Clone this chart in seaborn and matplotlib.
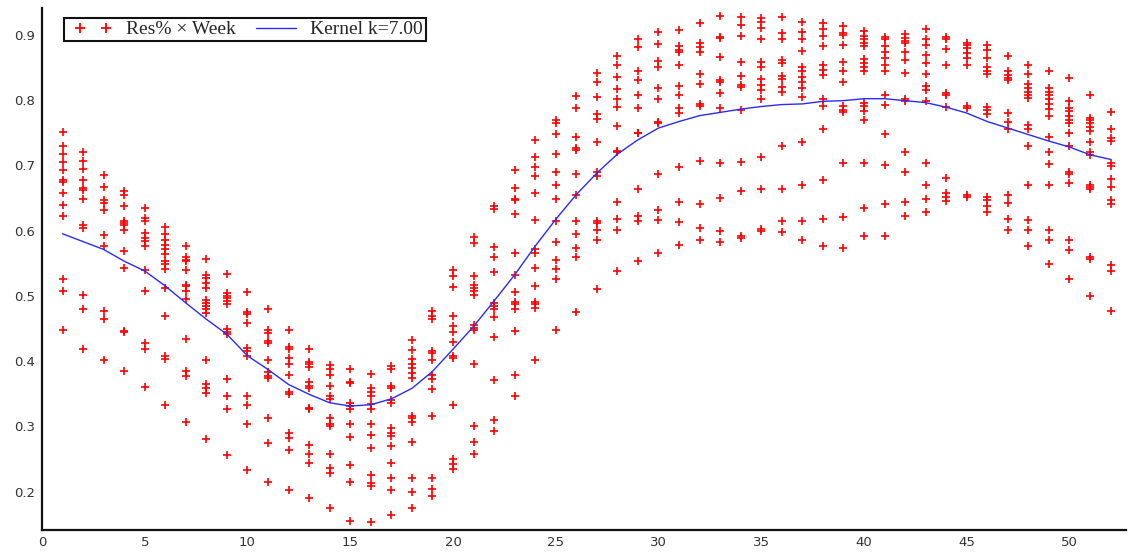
import numpy as np
import pandas as pd
import matplotlib
matplotlib.use("Agg")
import matplotlib.pyplot as plt
from matplotlib.lines import Line2D
from matplotlib.legend_handler import HandlerLine2D
from matplotlib.ticker import MultipleLocator, FuncFormatter
import seaborn as sns

# Weekly residual share, grouped by quarter (one inner list per week)
q1_res = [
    [0.751, 0.730, 0.717, 0.705, 0.692, 0.677, 0.675, 0.658, 0.639, 0.623, 0.526, 0.508, 0.447],
    [0.720, 0.706, 0.694, 0.677, 0.665, 0.662, 0.648, 0.609, 0.604, 0.501, 0.480, 0.419],
    [0.685, 0.666, 0.647, 0.642, 0.631, 0.593, 0.577, 0.476, 0.464, 0.402],
    [0.661, 0.655, 0.637, 0.615, 0.612, 0.609, 0.601, 0.568, 0.543, 0.446, 0.444, 0.384],
    [0.634, 0.619, 0.614, 0.596, 0.589, 0.584, 0.576, 0.540, 0.508, 0.428, 0.418, 0.360],
    [0.606, 0.594, 0.586, 0.578, 0.572, 0.564, 0.553, 0.548, 0.541, 0.512, 0.469, 0.407, 0.403, 0.333],
    [0.577, 0.560, 0.555, 0.553, 0.540, 0.517, 0.515, 0.507, 0.495, 0.434, 0.385, 0.377, 0.306],
    [0.557, 0.532, 0.527, 0.520, 0.512, 0.494, 0.489, 0.484, 0.479, 0.474, 0.402, 0.365, 0.359, 0.351, 0.281],
    [0.534, 0.504, 0.500, 0.496, 0.492, 0.487, 0.449, 0.444, 0.442, 0.373, 0.347, 0.327, 0.256],
    [0.506, 0.475, 0.472, 0.458, 0.420, 0.415, 0.408, 0.346, 0.332, 0.303, 0.233],
    [0.480, 0.448, 0.443, 0.430, 0.428, 0.402, 0.383, 0.377, 0.374, 0.313, 0.275, 0.215],
    [0.448, 0.421, 0.418, 0.405, 0.395, 0.379, 0.352, 0.350, 0.290, 0.282, 0.263, 0.202],
    [0.419, 0.398, 0.395, 0.391, 0.368, 0.362, 0.359, 0.328, 0.326, 0.271, 0.257, 0.243, 0.190],
]
q2_res = [
    [0.394, 0.387, 0.379, 0.361, 0.346, 0.342, 0.312, 0.304, 0.300, 0.258, 0.236, 0.229, 0.174],
    [0.387, 0.368, 0.367, 0.336, 0.331, 0.327, 0.303, 0.283, 0.240, 0.215, 0.155],
    [0.380, 0.359, 0.352, 0.347, 0.334, 0.327, 0.304, 0.287, 0.267, 0.225, 0.213, 0.208, 0.154],
    [0.392, 0.387, 0.361, 0.359, 0.341, 0.336, 0.298, 0.290, 0.285, 0.270, 0.244, 0.221, 0.203, 0.164],
    [0.432, 0.417, 0.403, 0.396, 0.389, 0.381, 0.374, 0.315, 0.313, 0.306, 0.276, 0.221, 0.199, 0.174],
    [0.476, 0.469, 0.465, 0.416, 0.413, 0.402, 0.378, 0.372, 0.357, 0.316, 0.220, 0.204, 0.193],
    [0.539, 0.530, 0.513, 0.469, 0.454, 0.445, 0.429, 0.407, 0.405, 0.332, 0.250, 0.242, 0.234],
    [0.590, 0.581, 0.531, 0.517, 0.512, 0.507, 0.501, 0.455, 0.451, 0.447, 0.396, 0.300, 0.276, 0.258],
    [0.638, 0.633, 0.575, 0.559, 0.536, 0.489, 0.484, 0.480, 0.467, 0.437, 0.371, 0.309, 0.292],
    [0.692, 0.665, 0.648, 0.646, 0.626, 0.566, 0.532, 0.505, 0.491, 0.487, 0.480, 0.446, 0.379, 0.347],
    [0.739, 0.712, 0.698, 0.683, 0.658, 0.616, 0.572, 0.566, 0.543, 0.515, 0.491, 0.487, 0.482, 0.402],
    [0.770, 0.764, 0.748, 0.717, 0.689, 0.669, 0.648, 0.614, 0.582, 0.555, 0.541, 0.526, 0.448],
    [0.806, 0.787, 0.744, 0.727, 0.724, 0.686, 0.655, 0.614, 0.594, 0.573, 0.560, 0.475],
]
q3_res = [
    [0.841, 0.827, 0.804, 0.779, 0.771, 0.735, 0.690, 0.683, 0.615, 0.611, 0.601, 0.586, 0.511],
    [0.868, 0.853, 0.835, 0.817, 0.802, 0.789, 0.760, 0.722, 0.720, 0.643, 0.618, 0.601, 0.538],
    [0.893, 0.881, 0.845, 0.831, 0.807, 0.788, 0.750, 0.749, 0.664, 0.623, 0.615, 0.554],
    [0.904, 0.886, 0.860, 0.851, 0.819, 0.802, 0.767, 0.765, 0.687, 0.632, 0.616, 0.565],
    [0.907, 0.883, 0.877, 0.873, 0.853, 0.822, 0.808, 0.788, 0.780, 0.698, 0.643, 0.613, 0.578],
    [0.918, 0.888, 0.881, 0.873, 0.840, 0.825, 0.794, 0.791, 0.707, 0.641, 0.604, 0.585],
    [0.928, 0.897, 0.895, 0.866, 0.831, 0.827, 0.811, 0.788, 0.704, 0.650, 0.600, 0.582],
    [0.927, 0.915, 0.898, 0.859, 0.837, 0.823, 0.820, 0.784, 0.705, 0.661, 0.592, 0.589],
    [0.926, 0.919, 0.910, 0.893, 0.859, 0.851, 0.832, 0.823, 0.815, 0.802, 0.713, 0.664, 0.603, 0.599],
    [0.927, 0.903, 0.893, 0.862, 0.857, 0.837, 0.832, 0.820, 0.813, 0.729, 0.664, 0.614, 0.597],
    [0.919, 0.904, 0.893, 0.875, 0.851, 0.844, 0.835, 0.827, 0.818, 0.805, 0.735, 0.669, 0.614, 0.586],
    [0.918, 0.909, 0.898, 0.882, 0.854, 0.846, 0.839, 0.802, 0.791, 0.756, 0.678, 0.618, 0.577],
    [0.914, 0.903, 0.900, 0.885, 0.858, 0.845, 0.827, 0.791, 0.785, 0.781, 0.704, 0.620, 0.573],
]
q4_res = [
    [0.905, 0.898, 0.893, 0.887, 0.882, 0.863, 0.857, 0.850, 0.844, 0.795, 0.791, 0.783, 0.770, 0.704, 0.635, 0.591],
    [0.897, 0.893, 0.882, 0.873, 0.864, 0.854, 0.845, 0.808, 0.793, 0.748, 0.701, 0.641, 0.592],
    [0.901, 0.895, 0.890, 0.888, 0.873, 0.862, 0.841, 0.802, 0.799, 0.721, 0.689, 0.643, 0.623],
    [0.909, 0.893, 0.885, 0.869, 0.857, 0.840, 0.822, 0.816, 0.798, 0.704, 0.669, 0.648, 0.628],
    [0.897, 0.893, 0.878, 0.854, 0.811, 0.807, 0.789, 0.681, 0.658, 0.652, 0.645],
    [0.887, 0.885, 0.880, 0.872, 0.864, 0.853, 0.791, 0.788, 0.655, 0.651],
    [0.885, 0.877, 0.864, 0.850, 0.845, 0.840, 0.789, 0.784, 0.778, 0.651, 0.646, 0.637, 0.629],
    [0.868, 0.844, 0.839, 0.834, 0.830, 0.780, 0.767, 0.756, 0.655, 0.642, 0.618, 0.601],
    [0.853, 0.840, 0.825, 0.818, 0.813, 0.808, 0.803, 0.761, 0.755, 0.730, 0.669, 0.616, 0.601, 0.577],
    [0.845, 0.818, 0.813, 0.808, 0.802, 0.794, 0.786, 0.776, 0.743, 0.721, 0.702, 0.669, 0.601, 0.585, 0.549],
    [0.834, 0.798, 0.788, 0.783, 0.776, 0.770, 0.764, 0.749, 0.730, 0.689, 0.687, 0.673, 0.586, 0.570, 0.525],
    [0.807, 0.772, 0.769, 0.764, 0.759, 0.753, 0.735, 0.721, 0.715, 0.669, 0.667, 0.663, 0.560, 0.557, 0.499],
    [0.781, 0.756, 0.742, 0.737, 0.704, 0.699, 0.679, 0.667, 0.646, 0.641, 0.547, 0.538, 0.476],
]

# Kernel smoother (k = 7) evaluated at each week
weeks = list(range(1, 53))
kernel_vals = [
    0.595, 0.583, 0.571, 0.553, 0.538, 0.515, 0.489, 0.464, 0.441, 0.408,
    0.387, 0.364, 0.349, 0.336, 0.331, 0.333, 0.342, 0.358, 0.384, 0.418,
    0.453, 0.492, 0.532, 0.576, 0.617, 0.655, 0.688, 0.717, 0.739, 0.757,
    0.767, 0.776, 0.781, 0.786, 0.790, 0.793, 0.794, 0.798, 0.799, 0.802,
    0.802, 0.799, 0.796, 0.789, 0.780, 0.767, 0.757, 0.747, 0.737, 0.728,
    0.716, 0.709,
]

all_weeks = q1_res + q2_res + q3_res + q4_res
points = pd.DataFrame(
    [(w, v) for w, vals in zip(weeks, all_weeks) for v in vals],
    columns=["week", "res"],
)
kernel = pd.DataFrame({"week": weeks, "res": kernel_vals})

sns.set_style("white")
plt.rcParams["font.family"] = ["DejaVu Sans"]

fig = plt.figure(figsize=(11.28, 5.55), dpi=100)
ax = fig.add_axes([0.0372, 0.045, 0.961, 0.9406])

sns.scatterplot(data=points, x="week", y="res", marker="+", color="#ff0000",
                s=40, linewidth=1.2, ax=ax, zorder=2, legend=False)
sns.lineplot(data=kernel, x="week", y="res", color="#2a2aff", linewidth=1.0,
             ax=ax, zorder=3, legend=False)

ax.set_xlim(0, 52.75)
ax.set_ylim(0.141, 0.941)
ax.set_xlabel("")
ax.set_ylabel("")

ax.xaxis.set_major_locator(MultipleLocator(5))
ax.xaxis.set_minor_locator(MultipleLocator(1))
ax.yaxis.set_major_locator(MultipleLocator(0.1))
ax.yaxis.set_minor_locator(MultipleLocator(0.02))
ax.yaxis.set_major_formatter(FuncFormatter(lambda v, p: f"{v:.1f}"))

for side in ("top", "right"):
    ax.spines[side].set_visible(False)
for side in ("left", "bottom"):
    ax.spines[side].set_linewidth(1.6)
    ax.spines[side].set_color("#111111")

ax.tick_params(axis="both", which="both", direction="in", colors="#111111",
               labelcolor="#333333", labelsize=9.5, width=1.2)
ax.tick_params(axis="y", which="major", length=7.5, pad=5)
ax.tick_params(axis="y", which="minor", length=4.5)
ax.tick_params(axis="x", which="major", length=4.5, pad=4)
ax.tick_params(axis="x", which="minor", length=2.5)

# Legend: a pair of "+" markers for the scatter, a short line for the smoother
marker_handle = Line2D([], [], linestyle="none", marker="+", color="#ff0000",
                       markersize=7, markeredgewidth=1.3)
line_handle = Line2D([], [], color="#2a2aff", linewidth=1.0)
leg = ax.legend([marker_handle, line_handle],
                ["Res% \u00d7 Week", "Kernel k=7.00"], ncol=2,
                loc="upper left", bbox_to_anchor=(0.0203, 0.981),
                borderaxespad=0, numpoints=2, handlelength=2.65,
                handletextpad=0.4, columnspacing=0.75, borderpad=0.15,
                fancybox=False, framealpha=1, edgecolor="#111111",
                handler_map={marker_handle: HandlerLine2D(marker_pad=0.65)},
                prop={"family": "Liberation Serif", "size": 14})
leg.get_frame().set_linewidth(1.5)

fig.savefig("out.png", dpi=100)
